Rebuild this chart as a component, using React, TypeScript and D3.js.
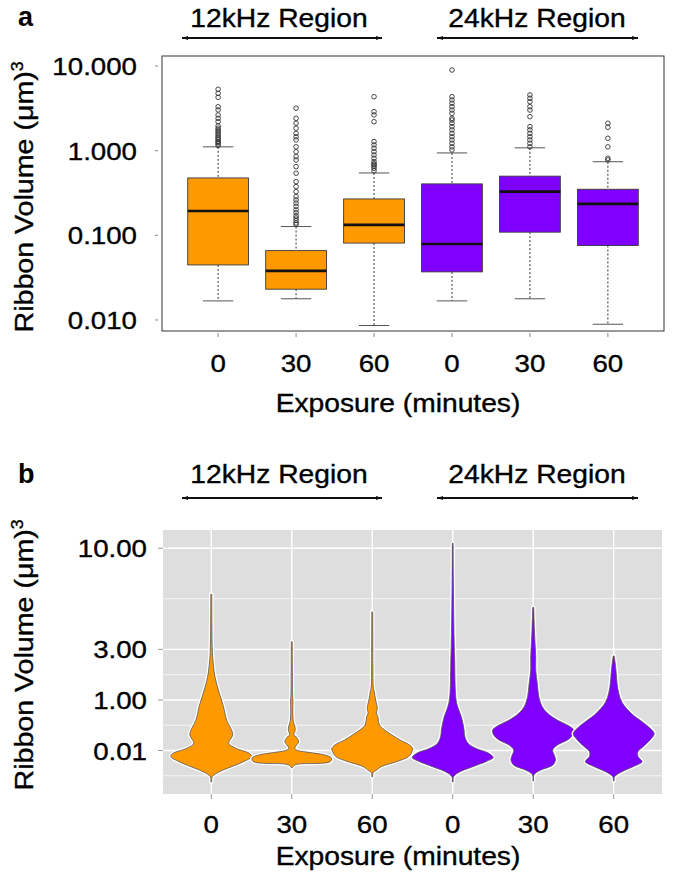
import React from "react";
import * as d3 from "d3";

// ---- data ----
const groups = ["12-0", "12-30", "12-60", "24-0", "24-30", "24-60"];
const tickLabels = ["0", "30", "60", "0", "30", "60"];
const region = ["12", "12", "12", "24", "24", "24"];
const regionNames = ["12kHz Region", "24kHz Region"];

// panel a: box plot stats (um^3)
const lowerWhisker = [0.0168, 0.0178, 0.0086, 0.0168, 0.0178, 0.0089];
const q1 = [0.0447, 0.0231, 0.081, 0.037, 0.109, 0.0758];
const median = [0.194, 0.038, 0.133, 0.079, 0.328, 0.235];
const q3 = [0.476, 0.066, 0.269, 0.405, 0.5, 0.35];
const upperWhisker = [1.11, 0.127, 0.545, 0.94, 1.08, 0.74];
const outliers = [
  [5.31, 4.76, 4.27, 3.3, 3.03, 2.64, 2.41, 2.2, 1.96, 1.84, 1.75, 1.68, 1.6, 1.53, 1.45, 1.4, 1.35, 1.28, 1.25, 1.2, 1.15],
  [3.17, 2.41, 2.11, 1.84, 1.6, 1.46, 1.34, 1.11, 0.97, 0.85, 0.776, 0.647, 0.541, 0.43, 0.376, 0.328, 0.286, 0.262, 0.24, 0.22, 0.2, 0.185, 0.17, 0.16, 0.15, 0.14, 0.135],
  [4.34, 2.89, 2.64, 2.2, 1.28, 1.17, 1.07, 0.973, 0.889, 0.813, 0.741, 0.7, 0.678, 0.65, 0.619, 0.58],
  [8.97, 4.34, 3.97, 3.63, 3.31, 3.02, 2.76, 2.41, 2.3, 2.11, 1.92, 1.76, 1.6, 1.46, 1.34, 1.22, 1.11, 1.02],
  [4.55, 4.16, 3.79, 3.31, 3.02, 2.52, 1.92, 1.76, 1.6, 1.46, 1.34, 1.22, 1.11],
  [2.11, 1.89, 1.4, 1.11, 0.813, 0.776],
];
const yTicksA = [0.01, 0.1, 1, 10];
const yLabelsA = ["0.010", "0.100", "1.000", "10.000"];

// panel b: violin profiles [position, relative width]
const violin12_0 = [[-0.62, 0.012], [-0.52, 0.02], [-0.42, 0.2], [-0.32, 0.5], [-0.22, 0.8], [-0.12, 1.0], [-0.06, 0.95], [0.04, 0.62], [0.14, 0.43], [0.31, 0.53], [0.44, 0.48], [0.6, 0.38], [0.87, 0.3], [1.13, 0.2], [1.39, 0.11], [1.53, 0.075], [1.79, 0.04], [1.99, 0.025], [2.5, 0.015], [3.09, 0.012]];
const violin12_30 = [[-0.34, 0.012], [-0.3, 0.05], [-0.27, 0.15], [-0.22, 0.95], [-0.15, 0.98], [-0.09, 0.82], [-0.04, 0.45], [0.0, 0.15], [0.04, 0.075], [0.11, 0.12], [0.17, 0.17], [0.26, 0.12], [0.31, 0.05], [0.4, 0.085], [0.48, 0.075], [0.57, 0.04], [0.8, 0.025], [0.94, 0.03], [1.1, 0.02], [1.6, 0.015], [2.15, 0.012]];
const violin12_60 = [[-0.52, 0.012], [-0.44, 0.02], [-0.38, 0.12], [-0.32, 0.22], [-0.22, 0.6], [-0.12, 0.9], [-0.02, 0.98], [0.04, 1.0], [0.11, 0.92], [0.21, 0.68], [0.31, 0.48], [0.41, 0.3], [0.5, 0.18], [0.6, 0.15], [0.67, 0.14], [0.74, 0.1], [0.83, 0.125], [1.0, 0.083], [1.16, 0.05], [1.26, 0.025], [1.8, 0.015], [2.74, 0.012]];
const violin24_0 = [[-0.62, 0.012], [-0.52, 0.02], [-0.42, 0.18], [-0.32, 0.5], [-0.22, 0.82], [-0.14, 1.0], [-0.05, 0.88], [0.04, 0.58], [0.14, 0.38], [0.27, 0.3], [0.41, 0.28], [0.54, 0.25], [0.67, 0.21], [0.8, 0.15], [0.93, 0.1], [1.06, 0.075], [1.39, 0.055], [1.72, 0.05], [2.05, 0.038], [2.64, 0.025], [3.4, 0.015], [4.1, 0.01]];
const violin24_30 = [[-0.6, 0.012], [-0.48, 0.02], [-0.39, 0.18], [-0.29, 0.48], [-0.19, 0.55], [-0.09, 0.52], [0.01, 0.48], [0.11, 0.6], [0.21, 0.85], [0.31, 0.98], [0.41, 1.0], [0.5, 0.85], [0.6, 0.6], [0.74, 0.35], [0.87, 0.22], [1.06, 0.14], [1.33, 0.1], [1.59, 0.062], [1.85, 0.062], [2.12, 0.045], [2.38, 0.03], [2.83, 0.012]];
const violin24_60 = [[-0.6, 0.012], [-0.52, 0.02], [-0.42, 0.2], [-0.32, 0.48], [-0.22, 0.7], [-0.12, 0.6], [-0.02, 0.6], [0.07, 0.72], [0.21, 0.9], [0.33, 1.0], [0.44, 0.9], [0.57, 0.7], [0.7, 0.48], [0.83, 0.32], [0.96, 0.2], [1.13, 0.125], [1.33, 0.083], [1.53, 0.062], [1.72, 0.038], [1.87, 0.012]];
const violins = [violin12_0, violin12_30, violin12_60, violin24_0, violin24_30, violin24_60];
const yBreaksB = [0, 1, 2, 4];
const yLabelsB = ["0.01", "1.00", "3.00", "10.00"];
const yMinorB = [-0.5, 0.5, 1.5, 3];

const colors = { "12": "#FF9900", "24": "#8000FF" };
const FONT = "'Liberation Sans', Arial, Helvetica, sans-serif";
const SX = 1.13;

const Txt = ({ x, y, size = 24.5, anchor = "middle", weight = "normal", sx = SX, children }: any) => (
  <text
    transform={`translate(${x},${y}) scale(${sx},1)`}
    fontSize={size}
    fontFamily={FONT}
    fontWeight={weight}
    textAnchor={anchor}
    fill="#000"
    stroke="#000"
    strokeWidth={weight === "bold" ? 0 : 0.35}
  >
    {children}
  </text>
);

const YTitle = ({ x, y }: any) => (
  <text
    transform={`translate(${x},${y}) rotate(-90) scale(1.1,1)`}
    fontSize={26}
    fontFamily={FONT}
    textAnchor="middle"
    fill="#000"
    stroke="#000"
    strokeWidth={0.35}
  >
    Ribbon Volume (μm)
    <tspan fontSize={16} dy={-10}>3</tspan>
  </text>
);

const RegionHeader = ({ textY, lineY }: any) => {
  const spans = [
    { x1: 182, x2: 382, tx: 279 },
    { x1: 437, x2: 638, tx: 537 },
  ];
  return (
    <g>
      {spans.map((s, i) => (
        <g key={i}>
          <Txt x={s.tx} y={textY} size={25}>{regionNames[i]}</Txt>
          <line x1={s.x1} x2={s.x2} y1={lineY} y2={lineY} stroke="#111" strokeWidth={2} />
          <path d={`M${s.x1},${lineY} l6,-2 l0,4 z`} fill="#111" />
          <path d={`M${s.x2},${lineY} l-6,-2 l0,4 z`} fill="#111" />
        </g>
      ))}
    </g>
  );
};

export default function App() {
  // ---- panel a scales ----
  const aL = 162, aR = 664, aT = 56, aB = 331;
  const xA = d3.scalePoint<string>().domain(groups).range([aL, aR]).padding(0.72);
  const yA = d3.scaleLog().domain([0.00741, 13.13]).range([aB, aT]);
  const stepA = xA.step();
  const boxW = stepA * 0.78;
  const capW = stepA * 0.39;

  // ---- panel b scales ----
  const bL = 163, bR = 662, bT = 530, bB = 794;
  const xB = d3.scalePoint<string>().domain(groups).range([bL, bR]).padding(0.6);
  const yB = d3.scaleLinear().domain([-0.86, 4.36]).range([bB, bT]);
  const wB = d3.scaleLinear().domain([0, 1]).range([0, 40.5]);

  return (
    <svg width={675} height={880} style={{ position: "absolute", left: 0, top: 0, display: "block", background: "#fff" }}>
      {/* ===== panel a ===== */}
      <Txt x={18} y={26} size={27} anchor="start" weight="bold" sx={1}>a</Txt>
      <RegionHeader textY={27} lineY={38} />
      <YTitle x={33} y={197} />

      {groups.map((g, i) => {
        const cx = xA(g)!;
        const fill = colors[region[i]];
        return (
          <g key={g}>
            <line x1={cx} x2={cx} y1={yA(upperWhisker[i])} y2={yA(q3[i])} stroke="#333" strokeDasharray="2,2" />
            <line x1={cx} x2={cx} y1={yA(q1[i])} y2={yA(lowerWhisker[i])} stroke="#333" strokeDasharray="2,2" />
            <line x1={cx - capW / 2} x2={cx + capW / 2} y1={yA(upperWhisker[i])} y2={yA(upperWhisker[i])} stroke="#555" />
            <line x1={cx - capW / 2} x2={cx + capW / 2} y1={yA(lowerWhisker[i])} y2={yA(lowerWhisker[i])} stroke="#555" />
            <rect
              x={cx - boxW / 2}
              y={yA(q3[i])}
              width={boxW}
              height={yA(q1[i]) - yA(q3[i])}
              fill={fill}
              stroke="#3a3a3a"
              strokeWidth={0.9}
            />
            <line x1={cx - boxW / 2} x2={cx + boxW / 2} y1={yA(median[i])} y2={yA(median[i])} stroke="#111" strokeWidth={2.6} />
            {outliers[i].map((v, j) => (
              <circle key={j} cx={cx} cy={yA(v)} r={2.3} fill="none" stroke="#333" strokeWidth={0.9} />
            ))}
            <line x1={cx} x2={cx} y1={aB + 2} y2={aB + 6} stroke="#888" />
            <Txt x={cx} y={372}>{tickLabels[i]}</Txt>
          </g>
        );
      })}
      <rect x={aL} y={aT} width={aR - aL} height={aB - aT} fill="none" stroke="#333" strokeWidth={1} />
      {yTicksA.map((t, i) => (
        <g key={t}>
          <line x1={155} x2={158} y1={yA(t)} y2={yA(t)} stroke="#888" />
          <Txt x={137} y={yA(t) + 9} anchor="end">{yLabelsA[i]}</Txt>
        </g>
      ))}
      <Txt x={398} y={412} size={25}>Exposure (minutes)</Txt>

      {/* ===== panel b ===== */}
      <Txt x={18} y={483} size={27} anchor="start" weight="bold" sx={1}>b</Txt>
      <RegionHeader textY={483} lineY={498} />
      <YTitle x={33} y={655} />

      <rect x={bL} y={bT} width={bR - bL} height={bB - bT} fill="#DEDEDE" />
      {yMinorB.map((t) => (
        <line key={t} x1={bL} x2={bR} y1={yB(t)} y2={yB(t)} stroke="#fff" strokeWidth={0.7} />
      ))}
      {yBreaksB.map((t) => (
        <line key={t} x1={bL} x2={bR} y1={yB(t)} y2={yB(t)} stroke="#fff" strokeWidth={1.4} />
      ))}
      {groups.map((g) => (
        <line key={g} x1={xB(g)} x2={xB(g)} y1={bT} y2={bB} stroke="#fff" strokeWidth={1.4} />
      ))}
      {groups.map((g, i) => {
        const cx = xB(g)!;
        const area = d3
          .area<number[]>()
          .y((d) => yB(d[0]))
          .x0((d) => cx - wB(d[1]))
          .x1((d) => cx + wB(d[1]))
          .curve(d3.curveCatmullRom.alpha(0.5));
        const p = area(violins[i]) || "";
        return (
          <g key={g}>
            <path d={p} fill="none" stroke="#fff" strokeWidth={3.5} strokeLinejoin="round" />
            <path d={p} fill={colors[region[i]]} stroke="#555" strokeWidth={0.8} />
          </g>
        );
      })}
      {yBreaksB.map((t, i) => (
        <g key={t}>
          <line x1={158} x2={163} y1={yB(t)} y2={yB(t)} stroke="#999" />
          <Txt x={147} y={yB(t) + 9} anchor="end">{yLabelsB[i]}</Txt>
        </g>
      ))}
      {groups.map((g, i) => (
        <g key={g}>
          <line x1={xB(g)} x2={xB(g)} y1={bB} y2={bB + 5} stroke="#999" />
          <Txt x={xB(g)} y={833}>{tickLabels[i]}</Txt>
        </g>
      ))}
      <Txt x={398} y={865} size={25}>Exposure (minutes)</Txt>
    </svg>
  );
}
